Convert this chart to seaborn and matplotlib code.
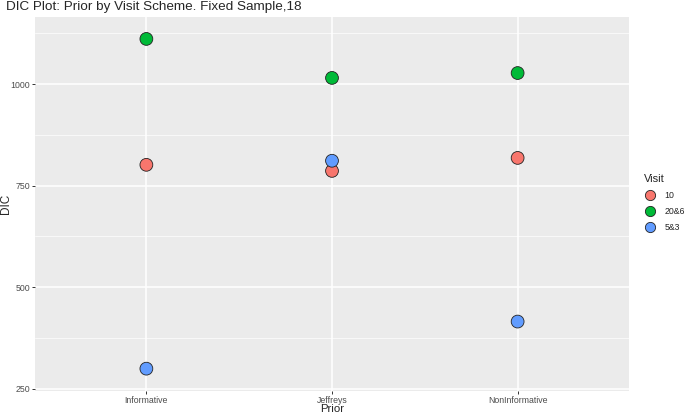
import numpy as np
import pandas as pd
import matplotlib.pyplot as plt
import seaborn as sns
from matplotlib.ticker import FixedLocator

priors = ["Informative", "Jeffreys", "NonInformative"]
visit_10 = [801, 786, 818]
visit_20_6 = [1111, 1015, 1027]
visit_5_3 = [299, 811, 415]
visits = ["10", "20&6", "5&3"]
palette = ["#F8766D", "#00BA38", "#619CFF"]

df = pd.DataFrame({
    "Prior": priors * 3,
    "DIC": visit_10 + visit_20_6 + visit_5_3,
    "Visit": [v for v in visits for _ in priors],
})

sns.set_theme(style="darkgrid", rc={
    "axes.facecolor": "#EBEBEB",
    "grid.color": "white",
    "axes.edgecolor": "none",
})
plt.rcParams["font.family"] = ["Liberation Sans", "DejaVu Sans"]

fig = plt.figure(figsize=(6.85, 4.15), dpi=100)
ax = fig.add_axes([35 / 685, 24 / 415, (629 - 35) / 685, (391 - 17) / 415])

sns.scatterplot(data=df, x="Prior", y="DIC", hue="Visit", palette=palette,
                s=85, edgecolor="#222222", linewidth=0.6, ax=ax, zorder=3)

ax.set_xlim(-0.6, 2.6)
ax.set_ylim(244, 1165)
ax.set_yticks([250, 500, 750, 1000])
ax.yaxis.set_minor_locator(FixedLocator([375, 625, 875, 1125]))
ax.grid(True, which="major", color="white", linewidth=1.1)
ax.grid(True, which="minor", axis="y", color="white", linewidth=0.5)
ax.tick_params(axis="both", which="major", length=2.5, width=0.7, color="#333333",
               labelsize=6.3, labelcolor="#4D4D4D", pad=1.2, bottom=True, left=True)
ax.tick_params(axis="both", which="minor", length=0)
ax.set_xlabel("Prior", fontsize=8.2)
ax.set_ylabel("DIC", fontsize=8.5)
ax.xaxis.set_label_coords(0.5, -0.035)
ax.yaxis.set_label_coords(-0.038, 0.5)

fig.text(6 / 685, 1 - 1 / 415, "DIC Plot: Prior by Visit Scheme. Fixed Sample,18",
         ha="left", va="top", fontsize=9.7)

handles, labels = ax.get_legend_handles_labels()
leg = ax.legend(handles, labels, title="Visit", loc="upper left",
                bbox_to_anchor=(638 / 685, 1 - 168 / 415), bbox_transform=fig.transFigure,
                frameon=False, fontsize=6.3, title_fontsize=8,
                markerscale=0.8, handletextpad=0.9, handlelength=1.4,
                labelspacing=0.8, alignment="left", borderpad=0.2)

fig.savefig("out.png", dpi=100)
